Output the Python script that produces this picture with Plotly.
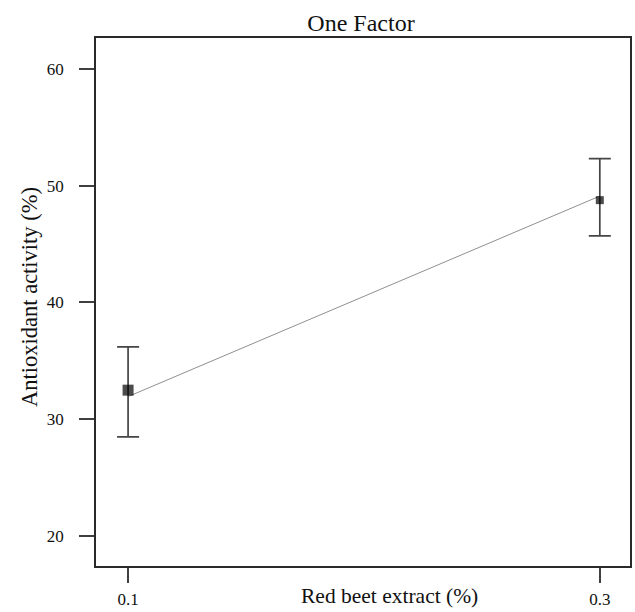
import plotly.graph_objects as go

# Data
extract_pct = [0.1, 0.3]
activity_mean = [32.5, 48.75]
err_upper = [36.2, 52.3]
err_lower = [28.5, 45.7]
fit_y = [31.95, 49.1]

x_ticks = [0.1, 0.3]
x_ticktext = ["0.1", "0.3"]
y_ticks = [20, 30, 40, 50, 60]

plus = [u - m for u, m in zip(err_upper, activity_mean)]
minus = [m - l for m, l in zip(activity_mean, err_lower)]

SERIF = "Liberation Serif, Times New Roman, serif"

fig = go.Figure()

fig.add_trace(go.Scatter(
    x=extract_pct, y=fit_y, mode="lines",
    line=dict(color="#8f8f8f", width=1),
    hoverinfo="skip", showlegend=False,
))

fig.add_trace(go.Scatter(
    x=extract_pct, y=activity_mean, mode="markers",
    marker=dict(symbol="square", size=[11, 8], color="black", line=dict(width=0)),
    error_y=dict(type="data", symmetric=False, array=plus, arrayminus=minus,
                 color="#454545", thickness=1.7, width=11),
    showlegend=False,
))

axis_common = dict(
    showline=True, mirror=True, linecolor="#2a2a2a", linewidth=1.5,
    ticks="outside", ticklen=15, tickwidth=1.5, tickcolor="#404040",
    showgrid=False, zeroline=False,
    tickfont=dict(family=SERIF, size=17, color="#111"),
)

fig.update_xaxes(range=[0.0864, 0.3128], tickvals=x_ticks, ticktext=x_ticktext,
                 ticklabelstandoff=2, **axis_common)
fig.update_yaxes(range=[17.46, 62.62], tickvals=y_ticks,
                 ticklabelstandoff=12, **axis_common)

fig.update_layout(
    width=635, height=612,
    margin=dict(l=96, r=3, t=38, b=40),
    plot_bgcolor="white", paper_bgcolor="white",
    title=dict(text="One Factor", x=361 / 635, xanchor="center", xref="container",
               y=1 - 23 / 612, yanchor="middle", yref="container",
               font=dict(family=SERIF, size=24, color="#111")),
    annotations=[
        dict(text="Antioxidant activity (%)", textangle=-90, xref="paper", yref="paper",
             x=(29 - 96) / 536, y=0.51, xanchor="center", yanchor="middle",
             showarrow=False, font=dict(family=SERIF, size=22.5, color="#111")),
        dict(text="Red beet extract (%)", xref="paper", yref="paper",
             x=(391 - 96) / 536, y=-(602 - 572) / 534, xanchor="center", yanchor="middle",
             showarrow=False, font=dict(family=SERIF, size=21.5, color="#111")),
    ],
)

fig.write_html("out.html")
